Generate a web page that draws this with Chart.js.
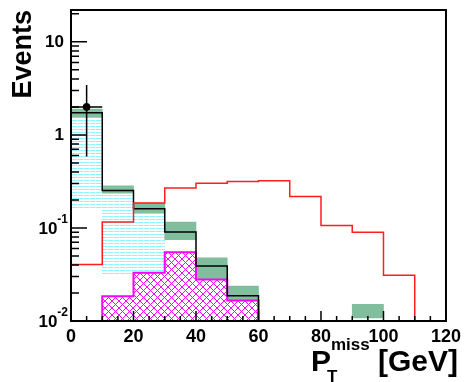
<!DOCTYPE html>
<html>
<head>
<meta charset="utf-8">
<script src="https://cdn.jsdelivr.net/npm/chart.js@4.4.1/dist/chart.umd.min.js"></script>
<style>
  html, body { margin: 0; padding: 0; background: #fff; }
  #wrap { width: 466px; height: 382px; }
</style>
</head>
<body>
<div id="wrap"><canvas id="plot" width="466" height="382"></canvas></div>
<script>
// 10 GeV bins from 0 to 120
const binEdges = [0, 10, 20, 30, 40, 50, 60, 70, 80, 90, 100, 110, 120];
const binCenters = [5, 15, 25, 35, 45, 55, 65, 75, 85, 95, 105, 115];

// red signal outline
const signal = [0.0404, 0.116, 0.185, 0.268, 0.303, 0.316, 0.321, 0.218, 0.106, 0.0897, 0.031, 0];
// black total background outline
const bkgTotal = [1.73, 0.253, 0.161, 0.0906, 0.0389, 0.0187, 0, 0, 0, 0, 0, 0];
// green uncertainty band
const bandLow = [1.55, 0.237, 0.145, 0.075, 0.0279, 0.0167, null, null, null, 0.0108, null, null];
const bandHigh = [1.9, 0.284, 0.185, 0.116, 0.0476, 0.0238, null, null, null, 0.0151, null, null];
// magenta hatched background
const bkgMagenta = [0, 0.0184, 0.033, 0.0548, 0.0279, 0.0166, 0, 0, 0, 0, 0, 0];
// cyan hatched background
const cyanLow = [0.157, 0.0316, 0.0316, null, null, null, null, null, null, null, null, null];
const cyanHigh = [1.68, 0.253, 0.161, null, null, null, null, null, null, null, null, null];
// data point
const dataX = [5];
const dataY = [2.0];
const dataErrLow = [0.586];
const dataErrHigh = [3.43];
const dataXErr = [5];

const yMin = 0.01, yMax = 22;
const yDecades = [0.01, 0.1, 1, 10];
const FONT = "'Liberation Sans', Arial, Helvetica, sans-serif";

function stepPoints(values) {
    let pts = [];
    for (let i = 0; i < values.length; i++) {
        pts.push({x: binEdges[i], y: values[i] > 0 ? values[i] : yMin});
    }
    const last = values[values.length - 1];
    pts.push({x: binEdges[binEdges.length - 1], y: last > 0 ? last : yMin});
    return pts;
}

function rangeBars(low, high) {
    let bars = [];
    for (let i = 0; i < binCenters.length; i++) {
        if (low[i] != null && high[i] != null) bars.push({x: binCenters[i], y: [low[i], high[i]]});
    }
    return bars;
}

function fillBars(values) {
    let bars = [];
    for (let i = 0; i < binCenters.length; i++) {
        if (values[i] > 0) bars.push({x: binCenters[i], y: [yMin, values[i]]});
    }
    return bars;
}

function makePattern(w, h, draw) {
    const c = document.createElement('canvas');
    c.width = w; c.height = h;
    const g = c.getContext('2d');
    draw(g);
    return document.getElementById('plot').getContext('2d').createPattern(c, 'repeat');
}

const cyanHatch = makePattern(6, 3, g => {
    g.fillStyle = 'rgb(140,245,255)';
    g.fillRect(0, 0, 5, 1);
    g.fillStyle = 'rgb(200,255,255)';
    g.fillRect(5, 0, 1, 1);
});
const magentaHatch = makePattern(7, 7, g => {
    g.strokeStyle = '#ff00ff';
    g.lineWidth = 1;
    g.beginPath();
    g.moveTo(0, 0); g.lineTo(7, 7);
    g.moveTo(7, 0); g.lineTo(0, 7);
    g.stroke();
});

const decor = {
    id: 'decor',
    afterDatasetsDraw(chart) {
        const {ctx, chartArea: a, scales: {x, y}} = chart;
        ctx.save();
        // data error bars
        ctx.strokeStyle = '#000';
        ctx.lineWidth = 1.5;
        dataX.forEach((xv, i) => {
            const px = x.getPixelForValue(xv);
            const py = y.getPixelForValue(dataY[i]);
            ctx.beginPath();
            ctx.moveTo(px, y.getPixelForValue(dataErrLow[i]));
            ctx.lineTo(px, y.getPixelForValue(dataErrHigh[i]));
            ctx.moveTo(x.getPixelForValue(xv - dataXErr[i]), py);
            ctx.lineTo(x.getPixelForValue(xv + dataXErr[i]), py);
            ctx.stroke();
        });

        // inner ticks
        ctx.lineWidth = 1.5;
        ctx.beginPath();
        for (let v = 0; v <= 120; v += 5) {
            const px = x.getPixelForValue(v);
            const len = v % 20 === 0 ? 10 : 5;
            ctx.moveTo(px, a.bottom);
            ctx.lineTo(px, a.bottom - len);
        }
        for (const d of yDecades) {
            for (let m = 1; m <= 9; m++) {
                const v = m * d;
                if (v > yMax) continue;
                const py = y.getPixelForValue(v);
                ctx.moveTo(a.left, py);
                ctx.lineTo(a.left + (m === 1 ? 16 : 8), py);
            }
        }
        ctx.stroke();

        // frame
        ctx.lineWidth = 2;
        ctx.strokeRect(a.left, a.top, a.right - a.left, a.bottom - a.top);

        // y tick labels
        ctx.fillStyle = '#000';
        ctx.textBaseline = 'middle';
        for (const d of yDecades) {
            const py = y.getPixelForValue(d);
            const exp = Math.round(Math.log10(d));
            if (exp >= 0) {
                ctx.font = 'bold 17px ' + FONT;
                ctx.textAlign = 'right';
                ctx.fillText(String(d), a.left - 7, py);
            } else {
                const sup = String(exp);
                ctx.font = 'bold 12px ' + FONT;
                const w2 = ctx.measureText(sup).width;
                const right = a.left - 3;
                ctx.textAlign = 'left';
                ctx.fillText(sup, right - w2, py - 8);
                ctx.font = 'bold 17px ' + FONT;
                ctx.textAlign = 'right';
                ctx.fillText('10', right - w2, py + 1);
            }
        }

        // y title
        ctx.save();
        ctx.translate(31, a.top);
        ctx.rotate(-Math.PI / 2);
        ctx.font = 'bold 27px ' + FONT;
        ctx.textAlign = 'right';
        ctx.textBaseline = 'alphabetic';
        ctx.fillText('Events', 0, 0);
        ctx.restore();

        // x title
        ctx.textBaseline = 'alphabetic';
        ctx.textAlign = 'left';
        ctx.font = 'bold 30px ' + FONT;
        ctx.fillText('P', 311, 371);
        ctx.font = 'bold 17px ' + FONT;
        ctx.fillText('miss', 331, 350);
        ctx.fillText('T', 327, 382);
        ctx.font = 'bold 30px ' + FONT;
        ctx.fillText('[GeV]', 378, 371);
        ctx.restore();
    }
};

const lineBase = {type: 'line', stepped: true, pointRadius: 0, fill: false, tension: 0, borderWidth: 1.5};
const barBase = {type: 'bar', grouped: false, barPercentage: 1, categoryPercentage: 1, borderWidth: 0};

new Chart(document.getElementById('plot'), {
    type: 'bar',
    data: {
        datasets: [
            Object.assign({}, barBase, {label: 'cyan', data: rangeBars(cyanLow, cyanHigh), backgroundColor: cyanHatch, order: 7}),
            Object.assign({}, barBase, {label: 'band', data: rangeBars(bandLow, bandHigh), backgroundColor: 'rgb(128,190,158)', order: 6}),
            Object.assign({}, barBase, {label: 'magenta', data: fillBars(bkgMagenta), backgroundColor: magentaHatch, order: 5}),
            Object.assign({}, lineBase, {label: 'magenta line', data: stepPoints(bkgMagenta), borderColor: '#ff00ff', borderWidth: 2, order: 4}),
            Object.assign({}, lineBase, {label: 'total', data: stepPoints(bkgTotal), borderColor: '#000', order: 3}),
            Object.assign({}, lineBase, {label: 'signal', data: stepPoints(signal), borderColor: 'rgb(255,30,30)', order: 2}),
            {
                type: 'scatter', label: 'data', order: 1,
                data: dataX.map((xv, i) => ({x: xv, y: dataY[i]})),
                pointRadius: 3.5, pointBackgroundColor: '#000', pointBorderColor: '#000'
            }
        ]
    },
    options: {
        responsive: false,
        animation: false,
        layout: {padding: {top: 10, right: 16, left: 0, bottom: 0}},
        plugins: {legend: {display: false}, tooltip: {enabled: false}},
        scales: {
            x: {
                type: 'linear', min: 0, max: 120, offset: false,
                grid: {display: false, drawTicks: false, offset: false},
                border: {display: false},
                ticks: {stepSize: 20, maxRotation: 0, padding: 5, color: '#000', font: {family: FONT, size: 18, weight: 'bold'}},
                afterFit: s => { s.height = 61; }
            },
            y: {
                type: 'logarithmic', min: yMin, max: yMax,
                grid: {display: false, drawTicks: false},
                border: {display: false},
                ticks: {display: false},
                afterFit: s => { s.width = 71; }
            }
        }
    },
    plugins: [decor]
});
</script>
</body>
</html>
